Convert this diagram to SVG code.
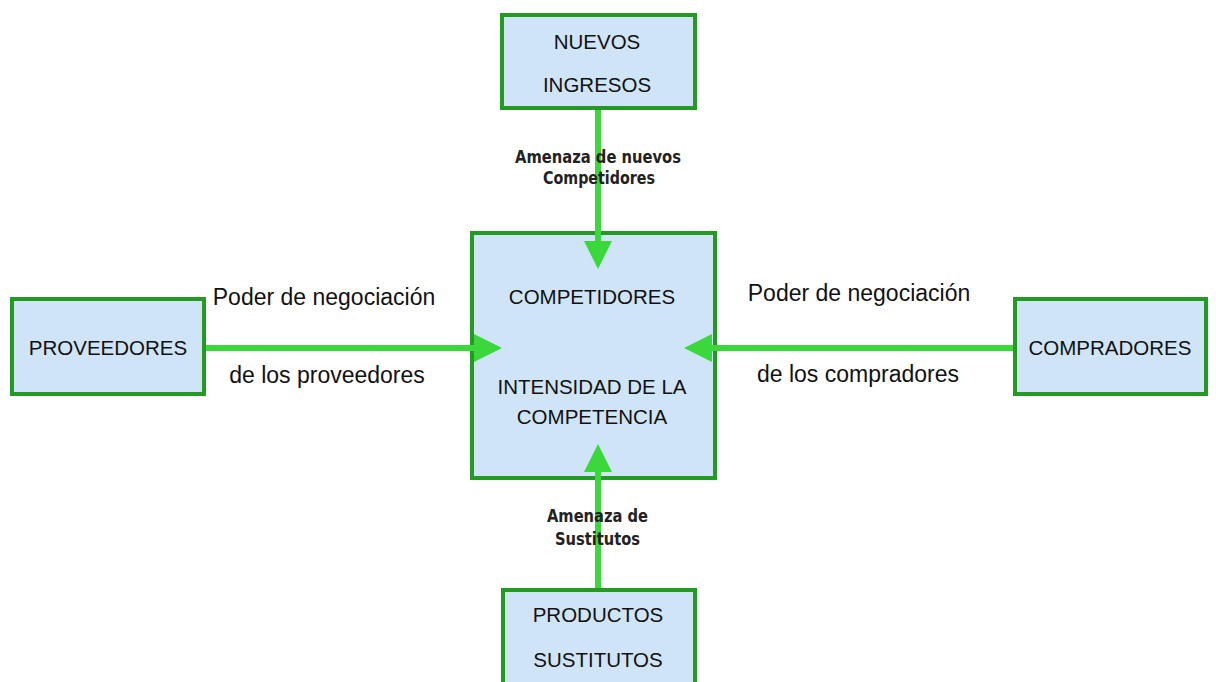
<svg xmlns="http://www.w3.org/2000/svg" width="1216" height="682" viewBox="0 0 1216 682">
<style>
.box{fill:#cfe5f7;stroke:#239b23;stroke-width:4}
.t{font-family:"Liberation Sans",Arial,sans-serif;font-size:20.5px;fill:#111;text-anchor:middle}
.lbl{font-family:"Liberation Sans",Arial,sans-serif;font-size:23px;fill:#111;text-anchor:middle}
.am{font-family:"DejaVu Sans",Verdana,sans-serif;font-weight:bold;font-size:18px;fill:#222;text-anchor:middle}
.ln{stroke:#3bd83b;stroke-width:6;fill:none}
</style>
<defs>
<marker id="ah" viewBox="0 0 28 28" refX="2" refY="14" markerWidth="28" markerHeight="28" markerUnits="userSpaceOnUse" orient="auto">
<path d="M0,0 L28,14 L0,28 Z" fill="#3bd83b"/>
</marker>
</defs>
<rect width="1216" height="682" fill="#fff"/>
<g id="nuevos">
<rect class="box" x="502" y="15" width="193" height="93"/>
<text class="t" x="597" y="49">NUEVOS</text>
<text class="t" x="597" y="92">INGRESOS</text>
</g>
<g id="competidores">
<rect class="box" x="472" y="233" width="243" height="245"/>
<text class="t" x="592" y="304">COMPETIDORES</text>
<text class="t" x="592" y="394">INTENSIDAD DE LA</text>
<text class="t" x="592" y="424">COMPETENCIA</text>
</g>
<g id="proveedores">
<rect class="box" x="12" y="299" width="192" height="95"/>
<text class="t" x="108" y="355">PROVEEDORES</text>
</g>
<g id="compradores">
<rect class="box" x="1015" y="299" width="191" height="95"/>
<text class="t" x="1110" y="355">COMPRADORES</text>
</g>
<g id="sustitutos">
<rect class="box" x="503" y="590" width="192" height="100"/>
<text class="t" x="598" y="622">PRODUCTOS</text>
<text class="t" x="598" y="667">SUSTITUTOS</text>
</g>
<g id="connectors">
<line class="ln" x1="598" y1="110" x2="598" y2="243" marker-end="url(#ah)"/>
<line class="ln" x1="598" y1="588" x2="598" y2="470" marker-end="url(#ah)"/>
<line class="ln" x1="206" y1="348" x2="476" y2="348" marker-end="url(#ah)"/>
<line class="ln" x1="1013" y1="348" x2="710" y2="348" marker-end="url(#ah)"/>
<text class="am" x="598" y="163" textLength="166" lengthAdjust="spacingAndGlyphs">Amenaza de nuevos</text>
<text class="am" x="599" y="184" textLength="112" lengthAdjust="spacingAndGlyphs">Competidores</text>
<text class="am" x="597.5" y="522" textLength="101" lengthAdjust="spacingAndGlyphs">Amenaza de</text>
<text class="am" x="597.5" y="545" textLength="85" lengthAdjust="spacingAndGlyphs">Sustitutos</text>
<text class="lbl" x="324" y="305">Poder de negociación</text>
<text class="lbl" x="327" y="383">de los proveedores</text>
<text class="lbl" x="859" y="301">Poder de negociación</text>
<text class="lbl" x="858" y="382">de los compradores</text>
</g>
</svg>
